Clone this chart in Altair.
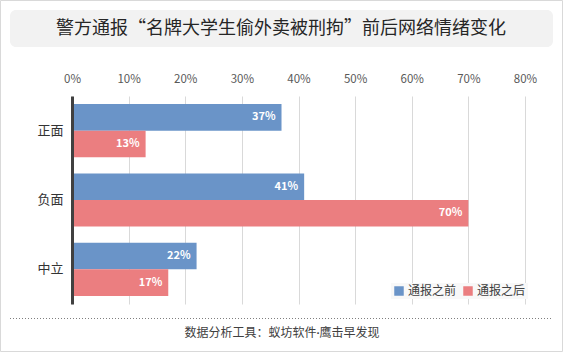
import altair as alt
import pandas as pd

categories = ["正面", "负面", "中立"]
series = ["通报之前", "通报之后"]
before = [0.37, 0.41, 0.22]
after = [0.13, 0.70, 0.17]
colors = ["#6a94c8", "#eb7e80"]
title_text = "警方通报“名牌大学生偷外卖被刑拘”前后网络情绪变化"
footer_text = "数据分析工具：蚁坊软件·鹰击早发现"
x_ticks = [0, 0.1, 0.2, 0.3, 0.4, 0.5, 0.6, 0.7, 0.8]

rows = []
for c, b, a in zip(categories, before, after):
    rows.append({"cat": c, "series": series[0], "val": b})
    rows.append({"cat": c, "series": series[1], "val": a})
df = pd.DataFrame(rows)

FONT = "Noto Sans CJK SC"
MIX = "Lato, Noto Sans CJK SC"
W, H = 453, 208
L, T = 72, 96

yenc = alt.Y("cat:N", sort=categories, title=None,
             scale=alt.Scale(paddingInner=0.235, paddingOuter=0.117),
             axis=alt.Axis(labelFont=FONT, labelFontSize=13, labelColor="#333333",
                           ticks=False, domain=True, domainColor="#404040", domainWidth=3,
                           labelPadding=9, zindex=1))
xenc = alt.X("val:Q", title=None,
             scale=alt.Scale(domain=[0, 0.8], nice=False),
             axis=alt.Axis(orient="top", format=".0%", values=x_ticks, ticks=False, domain=False,
                           gridColor="#d9d9d9", labelColor="#595959", labelFont=FONT,
                           labelFontSize=11.5, labelPadding=12, labelFlush=False))

bars = alt.Chart(df).mark_bar().encode(
    y=yenc,
    x=xenc,
    yOffset=alt.YOffset("series:N", sort=series),
    color=alt.Color("series:N", sort=series,
                    scale=alt.Scale(domain=series, range=colors),
                    legend=alt.Legend(title=None, orient="none", direction="horizontal",
                                      legendX=319, legendY=187, symbolType="square",
                                      symbolSize=90, symbolStrokeWidth=0,
                                      labelFont=FONT, labelFontSize=12, labelColor="#404040",
                                      columnPadding=5, labelOffset=3,
                                      fillColor="#f8f8f8", padding=2)),
)

labels = alt.Chart(df).mark_text(align="right", dx=-6, color="white", fontWeight="bold",
                                 font=FONT, fontSize=11).encode(
    y=alt.Y("cat:N", sort=categories),
    x="val:Q",
    yOffset=alt.YOffset("series:N", sort=series),
    text=alt.Text("val:Q", format=".0%"),
)

deco = pd.DataFrame({"k": [0]})
border = alt.Chart(deco).mark_rect(fillOpacity=0, stroke="#d9d9d9", strokeWidth=1).encode(
    x=alt.value(-L + 0.5), x2=alt.value(563 - L - 0.5),
    y=alt.value(-T + 0.5), y2=alt.value(352 - T - 0.5))
title_box = alt.Chart(deco).mark_rect(fill="#f2f2f2", cornerRadius=6).encode(
    x=alt.value(10 - L), x2=alt.value(553 - L),
    y=alt.value(10 - T), y2=alt.value(47 - T))
title = alt.Chart(deco).mark_text(font=FONT, fontSize=18, color="#262626",
                                  baseline="middle", align="center").encode(
    x=alt.value(281 - L), y=alt.value(29 - T), text=alt.value(title_text))
sep = alt.Chart(deco).mark_rule(color="#7f7f7f", strokeDash=[1, 2], strokeWidth=1).encode(
    x=alt.value(10 - L), x2=alt.value(553 - L), y=alt.value(318.5 - T))
footer = alt.Chart(deco).mark_text(font=MIX, fontSize=12, color="#404040",
                                   baseline="middle", align="center").encode(
    x=alt.value(282 - L), y=alt.value(333 - T), text=alt.value(footer_text))

chart = alt.layer(border, title_box, title, sep, footer, bars, labels).resolve_scale(
    y="shared", x="shared"
).properties(
    width=W, height=H,
    padding={"left": L, "top": T, "right": 563 - L - W, "bottom": 352 - T - H},
    autosize=alt.AutoSizeParams(type="none"),
    background="white",
).configure_view(stroke=None).configure_axis(labelFont=FONT)

chart.save("out.html", embed_options={"renderer": "svg", "actions": False})
